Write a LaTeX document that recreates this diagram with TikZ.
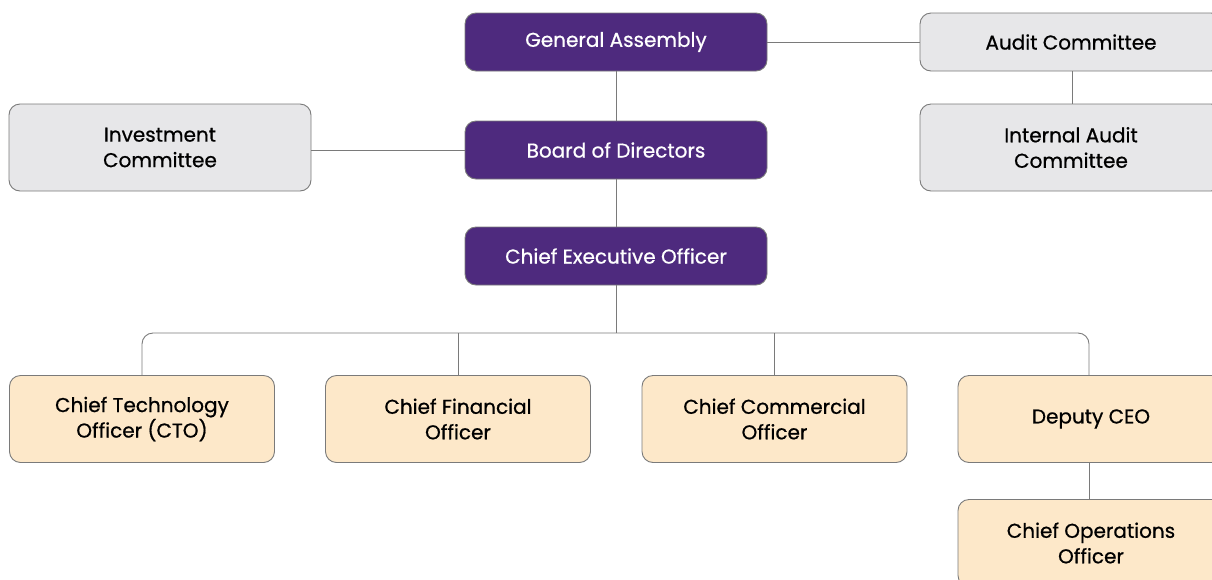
\documentclass[tikz,border=0pt]{standalone}
\usepackage{fontspec}
\setmainfont{Poppins}
\newfontfamily\orgfont{Poppins}[FakeBold=0.7]
\begin{document}
\begin{tikzpicture}[x=1pt,y=-1pt,
  box/.style={rectangle,rounded corners=11pt,draw=linegray,line width=0.9pt,
    align=center,inner sep=0pt,font=\orgfont\fontsize{20}{25.5}\selectfont},
  topbox/.style={box,fill=boardpurple,text=white,minimum width=302pt,minimum height=58pt},
  sidebox/.style={box,fill=panelgray,text=black,minimum width=302pt,minimum height=87pt},
  execbox/.style={box,fill=execbeige,text=black,minimum width=265pt,minimum height=87pt},
  link/.style={draw=linegray,line width=0.9pt}]
\definecolor{boardpurple}{HTML}{4E2A7E}
\definecolor{panelgray}{HTML}{E7E7E9}
\definecolor{execbeige}{HTML}{FDE8C9}
\definecolor{linegray}{HTML}{7A7A7A}

\useasboundingbox (0,0) rectangle (1212,579);
\clip (0,0) rectangle (1212,579);

% governance
\node[topbox] (ga)  at (616,42)  {General Assembly};
\node[topbox] (bod) at (616,150) {Board of Directors};
\node[topbox] (ceo) at (616,256) {Chief Executive Officer};

\node[sidebox,minimum height=58pt] (audit) at (1071,42) {Audit Committee};
\node[sidebox] (iac) at (1071,147.5) {Internal Audit\\Committee};
\node[sidebox] (inv) at (160,147.5) {Investment\\Committee};

% executives
\node[execbox] (cto) at (142,419)   {Chief Technology\\Officer (CTO)};
\node[execbox] (cfo) at (458,419)   {Chief Financial\\Officer};
\node[execbox] (cco) at (774.5,419) {Chief Commercial\\Officer};
\node[execbox,minimum width=266pt] (dep) at (1091,419) {Deputy CEO};
\node[execbox,minimum width=266pt] (coo) at (1091,543) {Chief Operations\\Officer};

% connectors
\coordinate (bus) at (616,333);
\draw[link] (ga.east) -- (audit.west);
\draw[link] (ga.south) -- (bod.north);
\draw[link] (inv.east |- bod.west) -- (bod.west);
\draw[link] (audit.south -| 1072,0) -- (iac.north -| 1072,0);
\draw[link] (bod.south) -- (ceo.north);
\draw[link] (ceo.south) -- (bus);
\draw[link,rounded corners=11pt] (cto.north) |- (bus) -| (1089,0 |- dep.north);
\draw[link] (cfo.north) -- (cfo.north |- bus);
\draw[link] (cco.north) -- (cco.north |- bus);
\draw[link] (1089,0 |- dep.south) -- (1089,0 |- coo.north);
\end{tikzpicture}
\end{document}
